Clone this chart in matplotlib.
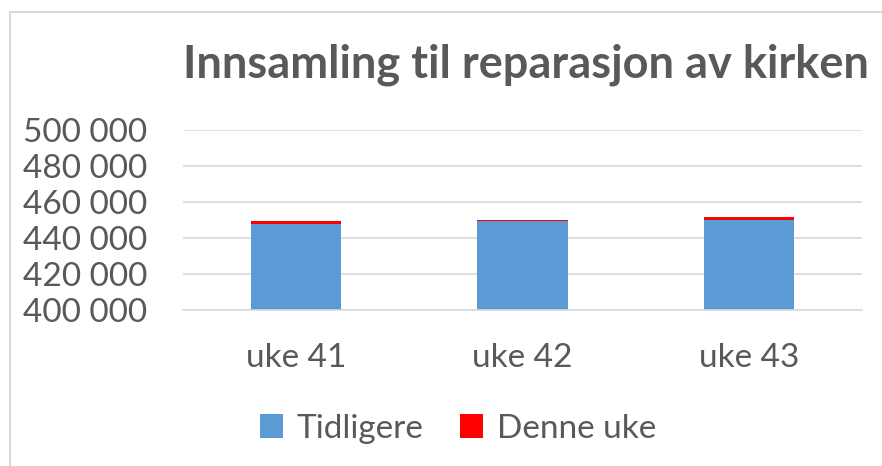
import numpy as np
import matplotlib.pyplot as plt
from matplotlib.lines import Line2D

plt.rcParams['font.family'] = ['Lato', 'DejaVu Sans']

weeks = ["uke 41", "uke 42", "uke 43"]
tidligere = [448000, 449200, 450100]
denne_uke = [1200, 900, 1500]
y_ticks = [400000, 420000, 440000, 460000, 480000, 500000]
y_labels = ["400 000", "420 000", "440 000", "460 000", "480 000", "500 000"]

text_col = "#595959"


def plot_chart():
    fig = plt.figure(figsize=(8.82, 4.66), dpi=100)
    ax = fig.add_axes([183 / 882, 1 - 310 / 466, 679 / 882, 180 / 466])

    x = np.arange(len(weeks))
    ax.bar(x, tidligere, width=0.4, color="#5b9bd5", label="Tidligere", zorder=2)
    ax.bar(x, denne_uke, width=0.4, bottom=tidligere, color="#ff0000",
           label="Denne uke", zorder=2)

    ax.set_xlim(-0.5, len(weeks) - 0.5)
    ax.set_ylim(400000, 500000)
    ax.set_yticks(y_ticks)
    ax.set_yticklabels(y_labels)
    ax.set_xticks(x)
    ax.set_xticklabels(weeks)
    ax.grid(axis="y", color="#d9d9d9", linewidth=1.2, zorder=0)
    for side in ["top", "right", "left"]:
        ax.spines[side].set_visible(False)
    ax.spines["bottom"].set_color("#d9d9d9")
    ax.spines["bottom"].set_linewidth(1.2)
    ax.tick_params(axis="both", length=0, labelsize=24, labelcolor=text_col)
    ax.tick_params(axis="y", pad=26)
    ax.tick_params(axis="x", pad=24)

    fig.text(0.596, 1 - 65 / 466, "Innsamling til reparasjon av kirken",
             ha="center", va="center", fontsize=32.5, fontweight="bold", color=text_col)

    ax.legend(loc="center", bbox_to_anchor=(0.405, -0.66), ncol=2, frameon=False,
              fontsize=24, labelcolor=text_col, handlelength=0.7, handleheight=0.7,
              handletextpad=0.4, columnspacing=1.1)

    # chart border (top and left edges visible)
    fig.add_artist(Line2D([10 / 882, 10 / 882], [0, 1 - 12 / 466],
                          transform=fig.transFigure, color="#d9d9d9", linewidth=1.5))
    fig.add_artist(Line2D([10 / 882, 1], [1 - 12 / 466, 1 - 12 / 466],
                          transform=fig.transFigure, color="#d9d9d9", linewidth=1.5))

    fig.savefig("out.png", dpi=100)


def main():
    plot_chart()


if __name__ == "__main__":
    main()
